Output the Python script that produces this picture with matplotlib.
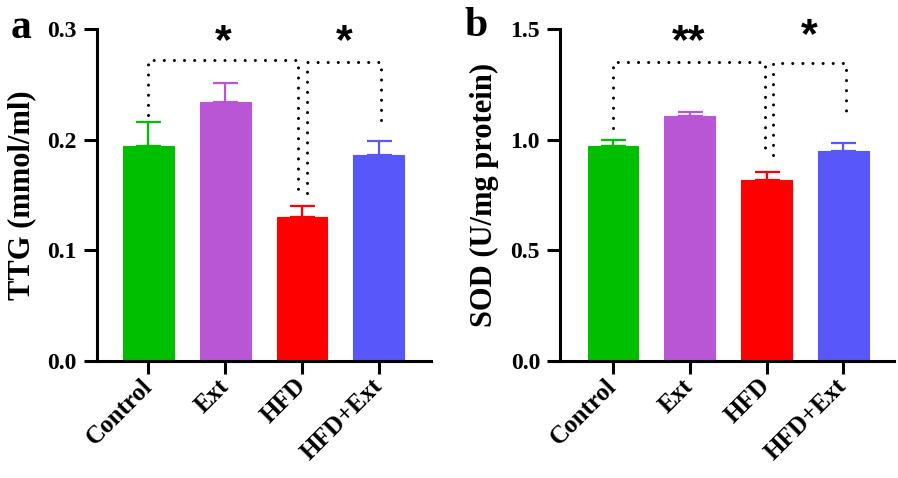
import numpy as np
import matplotlib
matplotlib.use("Agg")
import matplotlib.pyplot as plt

groups = ["Control", "Ext", "HFD", "HFD+Ext"]
colors = ["#00bf00", "#b856d6", "#ff0000", "#5858fa"]

# panel a: TTG
ttg_mean = [0.194, 0.234, 0.130, 0.186]
ttg_err = [0.022, 0.017, 0.010, 0.013]
# panel b: SOD
sod_mean = [0.972, 1.107, 0.818, 0.950]
sod_err = [0.028, 0.019, 0.036, 0.033]

# brackets: (x_left, x_right, y_top, y_left_end, y_right_end, star label, star y)
ttg_brackets = [(0.0, 1.95, 0.272, 0.222, 0.152, "*", 0.2886),
                (2.06, 3.03, 0.270, 0.152, 0.213, "*", 0.2886)]
sod_brackets = [(0.0, 1.98, 1.352, 1.051, 0.931, "**", 1.443),
                (2.08, 3.03, 1.345, 0.931, 1.092, "*", 1.469)]

plt.rcParams['font.family'] = ['Liberation Serif', 'DejaVu Serif']
plt.rcParams['font.weight'] = 'bold'

fig = plt.figure(figsize=(8.98, 4.78), dpi=100)
ax1 = fig.add_axes([97/898, 117/478, 334/898, 332/478])
ax2 = fig.add_axes([560/898, 117/478, 334/898, 332/478])


def draw_panel(ax, means, errs, brackets, ylim, yticks, ylabel, xlim):
    x = np.arange(len(groups))
    ax.bar(x, means, width=0.66, color=colors, edgecolor=colors, linewidth=0.8, zorder=2)
    for i in range(len(groups)):
        ax.errorbar(x[i], means[i], yerr=[[0], [errs[i]]], fmt='none',
                    ecolor=colors[i], elinewidth=1.6, capsize=9, capthick=1.6, zorder=1)
    for (xl, xr, yt, yl, yr, lab, sy) in brackets:
        ax.plot([xl, xl, xr, xr], [yl, yt, yt, yr], color='black', lw=2.2,
                linestyle=(0, (0.01, 3.3)), dash_capstyle='round', zorder=3)
        ax.text((xl + xr) / 2, sy, lab, ha='center', va='center', fontsize=31,
                family='Liberation Sans', fontweight='bold')
    ax.set_xlim(*xlim)
    ax.set_ylim(*ylim)
    ax.set_yticks(yticks)
    ax.set_yticklabels([f"{t:.1f}" for t in yticks], fontsize=17, fontweight='bold')
    ax.set_xticks(x)
    ax.set_xticklabels(groups, rotation=45, ha='right', va='center', rotation_mode='anchor',
                       fontsize=18, fontweight='bold')
    ax.set_ylabel(ylabel, fontsize=22, fontweight='bold', labelpad=8)
    for s in ['top', 'right']:
        ax.spines[s].set_visible(False)
    for s in ['left', 'bottom']:
        ax.spines[s].set_linewidth(2.2)
    ax.tick_params(axis='both', length=9.4, width=2.2, direction='out', pad=5)
    ax.tick_params(axis='x', pad=6)


draw_panel(ax1, ttg_mean, ttg_err, ttg_brackets, (0, 0.3), [0.0, 0.1, 0.2, 0.3],
           "TTG (mmol/ml)", (-0.67, 3.68))
draw_panel(ax2, sod_mean, sod_err, sod_brackets, (0, 1.5), [0.0, 0.5, 1.0, 1.5],
           "SOD (U/mg protein)", (-0.69, 3.66))

fig.text(11/898, 1 - 38/478, "a", fontsize=30, fontweight='bold', va='baseline')
fig.text(464/898, 1 - 36/478, "b", fontsize=30, fontweight='bold', va='baseline')

fig.savefig("out.png", dpi=100)
